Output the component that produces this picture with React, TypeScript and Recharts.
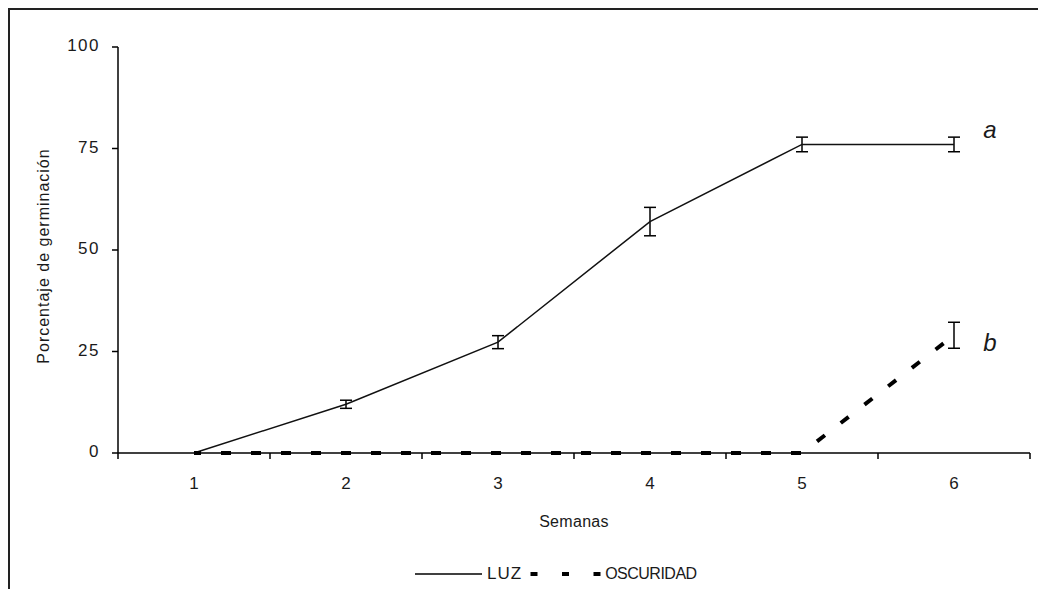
import React from 'react';
import { LineChart, Line, XAxis, YAxis, ErrorBar, Legend, LabelList } from 'recharts';

// semanas y porcentaje de germinación
const weeks = [1, 2, 3, 4, 5, 6];
const luz = [0, 12, 27.3, 57, 76, 76];
const luzErr = [null, 1, 1.6, 3.5, 1.8, 1.8];
const oscuridad = [0, 0, 0, 0, 0, 29];
const oscuridadErr = [null, null, null, null, null, 3.2];

const yTicks = [0, 25, 50, 75, 100];
// ticks de categoría (bordes) + etiquetas de semana
const xTicks = [0.5, 1, 1.5, 2, 2.5, 3, 3.5, 4, 4.5, 5, 5.5, 6, 6.5];

const letterLuz = 'a';
const letterOsc = 'b';

const data = weeks.map((w, i) => ({
  semana: w,
  luz: luz[i],
  luzErr: luzErr[i],
  osc: oscuridad[i],
  oscErr: oscuridadErr[i],
}));

const FONT = '"Liberation Sans", Arial, sans-serif';
const TXT = '#1a1a1a';

function XTick(props: any) {
  const { x, y, payload } = props;
  const v = payload.value;
  if (!Number.isInteger(v)) {
    return <line x1={x} y1={y} x2={x} y2={y + 6} stroke="#000" strokeWidth={1.5} />;
  }
  return (
    <text x={x} y={y + 32} textAnchor="middle" dominantBaseline="middle" fill={TXT} fontSize={17} fontFamily={FONT}>
      {v}
    </text>
  );
}

function YTick(props: any) {
  const { x, y, payload } = props;
  return (
    <text x={x} y={y} textAnchor="end" dominantBaseline="middle" fill={TXT} fontSize={17} letterSpacing={1.5} fontFamily={FONT}>
      {payload.value}
    </text>
  );
}

const letterLabel = (letter: string, dy: number) => (props: any) => {
  const { x, y, index } = props;
  if (index !== weeks.length - 1) return null;
  return (
    <text x={x + 36} y={y + dy} textAnchor="middle" fill={TXT} fontSize={24} fontStyle="italic" fontFamily={FONT}>
      {letter}
    </text>
  );
};

const renderLegend = () => (
  <div style={{ display: 'flex', alignItems: 'center', fontFamily: FONT, color: TXT, whiteSpace: 'nowrap', height: 20, fontSize: 16, lineHeight: '20px' }}>
    <svg width={72} height={10}>
      <line x1={0} y1={5} x2={67} y2={5} stroke="#000" strokeWidth={1.5} />
    </svg>
    <span style={{ fontSize: 17, letterSpacing: 1 }}>LUZ</span>
    <svg width={83} height={10}>
      <line x1={8.5} y1={5} x2={80} y2={5} stroke="#000" strokeWidth={4} strokeDasharray="7 24.5" />
    </svg>
    <span style={{ letterSpacing: -0.5 }}>OSCURIDAD</span>
  </div>
);

export default function App() {
  return (
    <div style={{ position: 'fixed', left: 8, top: 8, width: 1030, height: 581, background: '#fff' }}>
      <div style={{ position: 'absolute', left: 0, top: 0, width: 1030, height: 2, background: '#222' }} />
      <div style={{ position: 'absolute', left: 0, top: 0, width: 2, height: 581, background: '#222' }} />
      <div style={{ position: 'absolute', left: 0, top: 0 }}>
        <LineChart
          width={1030}
          height={581}
          data={data}
          margin={{ top: 39, right: 8, left: 0, bottom: 96 }}
          style={{ fontFamily: FONT }}
        >
          <XAxis
            dataKey="semana"
            type="number"
            domain={[0.5, 6.5]}
            ticks={xTicks}
            interval={0}
            height={40}
            tickSize={0}
            tickMargin={0}
            tickLine={false}
            tick={<XTick />}
            axisLine={{ stroke: '#000', strokeWidth: 1.5 }}
            label={{
              content: (p: any) => {
                const vb = p.viewBox;
                return (
                  <text x={vb.x + vb.width / 2} y={vb.y + 70} textAnchor="middle" dominantBaseline="middle" fill={TXT} fontSize={16} letterSpacing={0.3} fontFamily={FONT}>
                    Semanas
                  </text>
                );
              },
            }}
          />
          <YAxis
            domain={[0, 100]}
            ticks={yTicks}
            interval={0}
            width={110}
            tickSize={6}
            tickMargin={12}
            tick={<YTick />}
            tickLine={{ stroke: '#000', strokeWidth: 1.5 }}
            axisLine={{ stroke: '#000', strokeWidth: 1.5 }}
            label={{
              content: (p: any) => {
                const vb = p.viewBox;
                const cx = vb.x + vb.width - 73;
                const cy = vb.y + vb.height / 2 + 6;
                return (
                  <text x={cx} y={cy} transform={`rotate(-90 ${cx} ${cy})`} textAnchor="middle" dominantBaseline="middle" fill={TXT} fontSize={16} letterSpacing={1} fontFamily={FONT}>
                    Porcentaje de germinación
                  </text>
                );
              },
            }}
          />
          <Legend
            layout="vertical"
            align="center"
            verticalAlign="middle"
            content={renderLegend}
            wrapperStyle={{ left: 407, top: 556, width: 400, height: 20 }}
          />
          <Line
            dataKey="luz"
            name="LUZ"
            stroke="#111"
            strokeWidth={1.5}
            dot={false}
            isAnimationActive={false}
          >
            <ErrorBar dataKey="luzErr" direction="y" width={6} stroke="#000" strokeWidth={1.5} />
            <LabelList dataKey="luz" content={letterLabel(letterLuz, -6)} />
          </Line>
          <Line
            dataKey="osc"
            name="OSCURIDAD"
            stroke="#000"
            strokeWidth={4}
            strokeDasharray="10 20"
            strokeDashoffset={3}
            dot={false}
            isAnimationActive={false}
          >
            <ErrorBar dataKey="oscErr" direction="y" width={6} stroke="#000" strokeWidth={1.5} />
            <LabelList dataKey="osc" content={letterLabel(letterOsc, 16)} />
          </Line>
        </LineChart>
      </div>
    </div>
  );
}
